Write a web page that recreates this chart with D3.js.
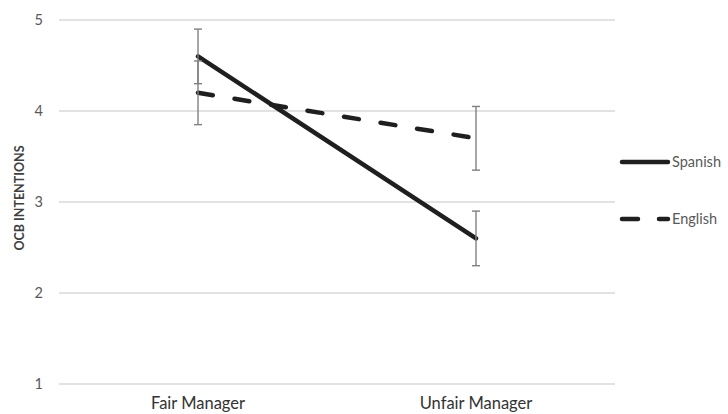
<!DOCTYPE html>
<html><head><meta charset="utf-8">
<script src="https://cdn.jsdelivr.net/npm/d3@7"></script>
<style>body{margin:0;background:#fff;overflow:hidden}</style>
</head><body>
<svg id="c" width="728" height="414"></svg>
<script>
const categories = ["Fair Manager", "Unfair Manager"];
const seriesNames = ["Spanish", "English"];
const spanish = [4.6, 2.6];
const english = [4.2, 3.7];
const spanishErr = [0.3, 0.3];
const englishErr = [0.35, 0.35];
const yTicks = [1, 2, 3, 4, 5];

const svg = d3.select("#c");
const font = "Lato, 'Open Sans', sans-serif";
const x = d3.scalePoint().domain(categories).range([198, 476]);
const y = d3.scaleLinear().domain([1, 5]).range([384, 20]);
const gx0 = 59, gx1 = 615;

// gridlines
svg.append("g").selectAll("line").data(yTicks).join("line")
  .attr("x1", gx0).attr("x2", gx1)
  .attr("y1", d => y(d)).attr("y2", d => y(d))
  .attr("stroke", "#d9d9d9").attr("stroke-width", 1.5);

// y labels
svg.append("g").selectAll("text").data(yTicks).join("text")
  .attr("x", 43).attr("y", d => y(d) + 5)
  .attr("text-anchor", "end").attr("font-family", font).attr("font-size", 14.5)
  .attr("fill", "#595959").text(d => d);

// y title
svg.append("text").attr("transform", "translate(24,198) rotate(-90)")
  .attr("text-anchor", "middle").attr("font-family", font).attr("font-size", 12.5)
  .attr("font-weight", "bold").attr("fill", "#404040").text("OCB INTENTIONS");

// x labels
svg.append("g").selectAll("text").data(categories).join("text")
  .attr("x", d => x(d)).attr("y", 409)
  .attr("text-anchor", "middle").attr("font-family", font).attr("font-size", 16.5)
  .attr("fill", "#333").text(d => d);

const series = [
  {name: seriesNames[0], vals: spanish, err: spanishErr, dash: null},
  {name: seriesNames[1], vals: english, err: englishErr, dash: "15,22"}
];

const line = d3.line().x(d => x(d.c)).y(d => y(d.v));
series.forEach(s => {
  const pts = categories.map((c, i) => ({c, v: s.vals[i], e: s.err[i]}));
  svg.append("path").datum(pts).attr("d", line)
    .attr("fill", "none").attr("stroke", "#1f1f1f").attr("stroke-width", 4.5)
    .attr("stroke-linecap", "round")
    .attr("stroke-dasharray", s.dash);
  const g = svg.append("g").attr("stroke", "#808080").attr("stroke-width", 1.4);
  pts.forEach(p => {
    g.append("line").attr("x1", x(p.c)).attr("x2", x(p.c))
      .attr("y1", y(p.v + p.e)).attr("y2", y(p.v - p.e));
    [p.v + p.e, p.v - p.e].forEach(v => {
      g.append("line").attr("x1", x(p.c) - 4).attr("x2", x(p.c) + 4)
        .attr("y1", y(v)).attr("y2", y(v));
    });
  });
});

// legend
const leg = svg.append("g");
series.forEach((s, i) => {
  const ly = 162 + i * 57;
  leg.append("line").attr("x1", 622).attr("x2", 668).attr("y1", ly).attr("y2", ly)
    .attr("stroke", "#1f1f1f").attr("stroke-width", 4.5).attr("stroke-linecap", "round")
    .attr("stroke-dasharray", s.dash ? "16,21" : null);
  leg.append("text").attr("x", 672).attr("y", ly + 5)
    .attr("font-family", font).attr("font-size", 14.5).attr("fill", "#595959").text(s.name);
});
</script>
</body></html>
